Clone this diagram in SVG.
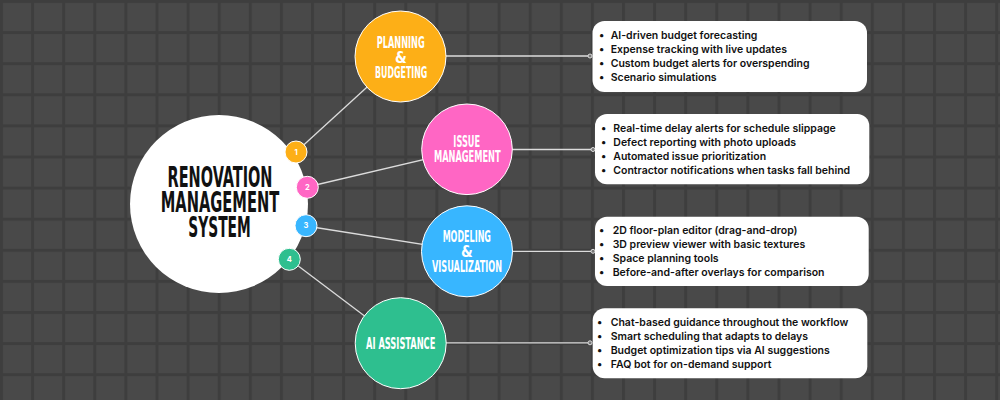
<svg xmlns="http://www.w3.org/2000/svg" width="1000" height="400" viewBox="0 0 1000 400">
<defs>
<pattern id="grid" x="0" y="0" width="31.1" height="31.1" patternUnits="userSpaceOnUse">
<rect width="31.1" height="31.1" fill="#494949"/>
<rect width="3" height="31.1" fill="#3e3e3e"/>
<rect width="31.1" height="3" fill="#3e3e3e"/>
</pattern>
</defs>
<style>
.cond{font-family:"DejaVu Sans Condensed","DejaVu Sans",sans-serif;font-weight:bold;text-anchor:middle}
.lbl{fill:#ffffff;font-size:15px}
.ctr{fill:#111111;font-size:27.5px}
.num{font-family:Inter,"Noto Sans",sans-serif;font-weight:700;font-size:7.5px;fill:#ffffff;text-anchor:middle}
.item{font-family:Inter,"Noto Sans",sans-serif;font-weight:600;font-size:10.5px;fill:#111111}
.box{fill:#ffffff}
.link{stroke:#dcdcdc;stroke-width:1.3;fill:none}
.end{fill:#777777;stroke:#dcdcdc;stroke-width:1}
.cat{stroke:#ffffff;stroke-width:1}
</style>
<rect width="1000" height="400" fill="url(#grid)"/>
<g id="connectors">
<line class="link" x1="296" y1="152" x2="400.5" y2="56.5"/>
<line class="link" x1="307" y1="187" x2="467" y2="149.3"/>
<line class="link" x1="306" y1="226" x2="467" y2="251.3"/>
<line class="link" x1="289" y1="259" x2="400.7" y2="343.2"/>
<line class="link" x1="446" y1="56" x2="590" y2="56"/>
<line class="link" x1="512" y1="149.5" x2="593" y2="149.5"/>
<line class="link" x1="512" y1="251.3" x2="593" y2="251.3"/>
<line class="link" x1="446" y1="342.8" x2="590" y2="342.8"/>
<circle class="end" cx="590" cy="56" r="2"/>
<circle class="end" cx="593" cy="149.5" r="2"/>
<circle class="end" cx="593" cy="251.3" r="2"/>
<circle class="end" cx="590" cy="342.8" r="2"/>
</g>
<g id="center">
<circle cx="219" cy="204" r="89" fill="#ffffff"/>
<text class="cond ctr" x="220" y="187" textLength="105" lengthAdjust="spacingAndGlyphs">RENOVATION</text>
<text class="cond ctr" x="220" y="212" textLength="118.5" lengthAdjust="spacingAndGlyphs">MANAGEMENT</text>
<text class="cond ctr" x="219.5" y="236.5" textLength="62.5" lengthAdjust="spacingAndGlyphs">SYSTEM</text>
</g>
<g id="num1"><circle cx="296" cy="152" r="11" fill="#fdaf17" stroke="#ffffff" stroke-width="1"/><text class="num" x="296" y="154.7">1</text></g>
<g id="num2"><circle cx="307.3" cy="187.3" r="11" fill="#ff66c4" stroke="#ffffff" stroke-width="1"/><text class="num" x="307.3" y="190">2</text></g>
<g id="num3"><circle cx="306" cy="225.7" r="11" fill="#38b6ff" stroke="#ffffff" stroke-width="1"/><text class="num" x="306" y="228.4">3</text></g>
<g id="num4"><circle cx="289.3" cy="259.3" r="11" fill="#2ebf8f" stroke="#ffffff" stroke-width="1"/><text class="num" x="289.3" y="262">4</text></g>
<g id="planning">
<circle class="cat" cx="400.5" cy="56.5" r="45.5" fill="#fdaf17"/>
<text class="cond lbl" x="400.7" y="48.3" textLength="48" lengthAdjust="spacingAndGlyphs">PLANNING</text>
<text class="cond lbl" x="401" y="63.3">&amp;</text>
<text class="cond lbl" x="401.2" y="78.3" textLength="52.3" lengthAdjust="spacingAndGlyphs">BUDGETING</text>
</g>
<g id="issue">
<circle class="cat" cx="467" cy="149.3" r="45.3" fill="#ff66c4"/>
<text class="cond lbl" x="466.7" y="147.3" textLength="26.7" lengthAdjust="spacingAndGlyphs">ISSUE</text>
<text class="cond lbl" x="467.3" y="162.3" textLength="66.7" lengthAdjust="spacingAndGlyphs">MANAGEMENT</text>
</g>
<g id="modeling">
<circle class="cat" cx="467" cy="251.3" r="45.5" fill="#38b6ff"/>
<text class="cond lbl" x="466.8" y="242.3" textLength="48.3" lengthAdjust="spacingAndGlyphs">MODELING</text>
<text class="cond lbl" x="467" y="256.7">&amp;</text>
<text class="cond lbl" x="467" y="272.3" textLength="70" lengthAdjust="spacingAndGlyphs">VISUALIZATION</text>
</g>
<g id="ai">
<circle class="cat" cx="400.7" cy="343.2" r="45.5" fill="#2ebf8f"/>
<text class="cond lbl" x="400.7" y="349.3" textLength="69.3" lengthAdjust="spacingAndGlyphs">AI ASSISTANCE</text>
</g>
<g id="box1">
<rect class="box" x="592.5" y="21" width="274.5" height="71" rx="12"/>
<text class="item"><tspan x="599" y="39">•</tspan><tspan x="610.7" y="39">AI-driven budget forecasting</tspan><tspan x="599" y="53">•</tspan><tspan x="610.7" y="53">Expense tracking with live updates</tspan><tspan x="599" y="67">•</tspan><tspan x="610.7" y="67">Custom budget alerts for overspending</tspan><tspan x="599" y="81">•</tspan><tspan x="610.7" y="81">Scenario simulations</tspan></text>
</g>
<g id="box2">
<rect class="box" x="595" y="114" width="274.3" height="70.3" rx="12"/>
<text class="item"><tspan x="601" y="132">•</tspan><tspan x="613.3" y="132">Real-time delay alerts for schedule slippage</tspan><tspan x="601" y="146">•</tspan><tspan x="613.3" y="146">Defect reporting with photo uploads</tspan><tspan x="601" y="160">•</tspan><tspan x="613.3" y="160">Automated issue prioritization</tspan><tspan x="601" y="174">•</tspan><tspan x="613.3" y="174">Contractor notifications when tasks fall behind</tspan></text>
</g>
<g id="box3">
<rect class="box" x="595" y="216.7" width="273.7" height="69.3" rx="12"/>
<text class="item"><tspan x="599" y="234">•</tspan><tspan x="612.7" y="234">2D floor-plan editor (drag-and-drop)</tspan><tspan x="599" y="248">•</tspan><tspan x="612.7" y="248">3D preview viewer with basic textures</tspan><tspan x="599" y="262">•</tspan><tspan x="612.7" y="262">Space planning tools</tspan><tspan x="599" y="276">•</tspan><tspan x="612.7" y="276">Before-and-after overlays for comparison</tspan></text>
</g>
<g id="box4">
<rect class="box" x="592.7" y="308.3" width="274.6" height="70" rx="12"/>
<text class="item"><tspan x="597" y="326">•</tspan><tspan x="610.7" y="326">Chat-based guidance throughout the workflow</tspan><tspan x="597" y="340">•</tspan><tspan x="610.7" y="340">Smart scheduling that adapts to delays</tspan><tspan x="597" y="354">•</tspan><tspan x="610.7" y="354">Budget optimization tips via AI suggestions</tspan><tspan x="597" y="368">•</tspan><tspan x="610.7" y="368">FAQ bot for on-demand support</tspan></text>
</g>
</svg>
